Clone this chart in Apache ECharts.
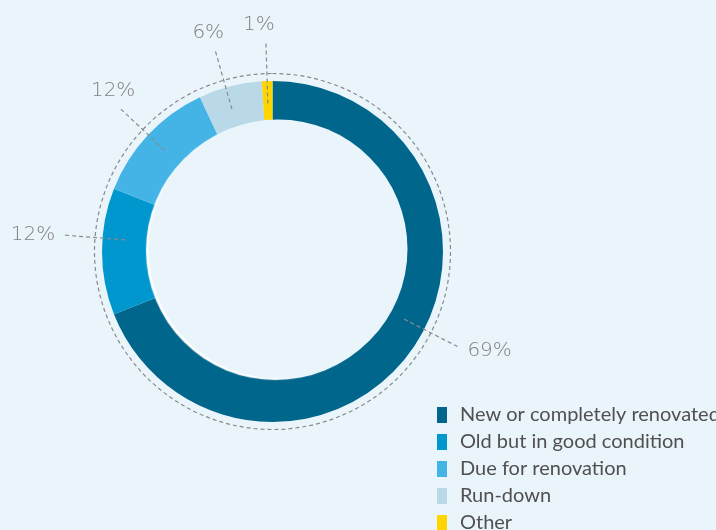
<!DOCTYPE html>
<html>
<head>
<meta charset="utf-8">
<script src="https://cdn.jsdelivr.net/npm/echarts@6/dist/echarts.min.js"></script>
<style>
  html, body { margin: 0; padding: 0; background: #eaf4fb; }
  #chart { width: 716px; height: 530px; }
</style>
</head>
<body>
<div id="chart"></div>
<script>
// Condition of the building stock (share of total, %)
const categories = [
  'New or completely renovated',
  'Old but in good condition',
  'Due for renovation',
  'Run-down',
  'Other'
];
const shares = [69, 12, 12, 6, 1];
const colors = ['#00668c', '#0097ce', '#44b4e6', '#b9d8e8', '#ffd500'];

// Layout constants (pixels)
const BG = '#eaf4fb';
const CX = 272.5, CY = 251.5;      // donut centre
const R_OUT = 170.5, R_IN = 118;   // donut radii
const R_DASH = 178;                // dashed guide circle
const LINE_FROM = 148, LINE_TO = 209;
const HOLE_CX = 278, HOLE_CY = 249, HOLE_R = 129.5;
// small rotation of some leader lines, degrees counter-clockwise
const leaderShift = [7, -4.5, 0, 1.5, 0];

const total = shares.reduce((a, b) => a + b, 0);

// direction of the leader line for slice i (unit vector, screen coordinates)
function leaderDir(i) {
  let before = 0;
  for (let k = 0; k < i; k++) before += shares[k];
  const deg = 90 - (before + shares[i] / 2) / total * 360 + leaderShift[i];
  const a = deg * Math.PI / 180;
  return [Math.cos(a), -Math.sin(a)];
}

const guide = { stroke: '#8a8a8a', lineWidth: 1.2, lineDash: [4, 3] };

// dashed leader lines, from the middle of the ring out past the guide circle
const leaderLines = shares.map((v, i) => {
  const [dx, dy] = leaderDir(i);
  return {
    type: 'polyline',
    silent: true,
    z: 10,
    shape: {
      points: [
        [CX + dx * LINE_FROM, CY + dy * LINE_FROM],
        [CX + dx * LINE_TO, CY + dy * LINE_TO]
      ]
    },
    style: Object.assign({ fill: null }, guide)
  };
});

const chart = echarts.init(document.getElementById('chart'), null, { renderer: 'canvas' });

chart.setOption({
  backgroundColor: BG,
  animation: false,
  graphic: leaderLines,
  legend: {
    data: categories,
    orient: 'vertical',
    left: 437,
    top: 405,
    width: 400,
    height: 200,
    padding: 0,
    itemWidth: 10,
    itemHeight: 16,
    itemGap: 7,
    icon: 'rect',
    selectedMode: false,
    textStyle: {
      fontFamily: 'Lato',
      fontSize: 20,
      color: '#505050',
      padding: [0, 0, 0, 8]
    }
  },
  series: [
    {
      // dashed guide circle around the donut
      type: 'pie',
      silent: true,
      z: 1,
      center: [CX, CY],
      radius: [0, R_DASH],
      label: { show: false },
      labelLine: { show: false },
      emphasis: { disabled: true },
      itemStyle: {
        color: 'rgba(0,0,0,0)',
        borderColor: guide.stroke,
        borderWidth: guide.lineWidth,
        borderType: guide.lineDash
      },
      data: [{ name: 'guide', value: 1 }]
    },
    {
      type: 'pie',
      z: 2,
      center: [CX, CY],
      radius: [R_IN, R_OUT],
      startAngle: 90,
      clockwise: true,
      avoidLabelOverlap: false,
      emphasis: { disabled: true },
      itemStyle: { borderWidth: 0 },
      label: {
        show: true,
        position: 'outside',
        formatter: '{c}%',
        fontFamily: 'DejaVu Sans',
        fontWeight: 200,
        fontSize: 20,
        color: '#808080'
      },
      labelLine: { show: false },
      labelLayout: function (params) {
        const [dx, dy] = leaderDir(params.dataIndex);
        const ex = CX + dx * LINE_TO, ey = CY + dy * LINE_TO;
        if (Math.abs(dy) > 0.6) {
          return {
            x: ex - 7,
            y: ey + (dy < 0 ? -8 : 8),
            align: 'center',
            verticalAlign: dy < 0 ? 'bottom' : 'top'
          };
        }
        return {
          x: ex + (dx > 0 ? 9 : -9),
          y: ey + dy * 8,
          align: dx > 0 ? 'left' : 'right',
          verticalAlign: 'middle'
        };
      },
      data: categories.map((name, i) => ({
        name,
        value: shares[i],
        itemStyle: { color: colors[i] }
      }))
    },
    {
      // inner hole with a soft white rim on its lower-left edge
      type: 'pie',
      silent: true,
      z: 3,
      center: [HOLE_CX, HOLE_CY],
      radius: [0, HOLE_R],
      label: { show: false },
      labelLine: { show: false },
      emphasis: { disabled: true },
      itemStyle: {
        color: BG,
        shadowColor: '#ffffff',
        shadowBlur: 1,
        shadowOffsetX: -2.5,
        shadowOffsetY: 1.5
      },
      data: [{ name: 'hole', value: 1 }]
    }
  ]
});
</script>
</body>
</html>
